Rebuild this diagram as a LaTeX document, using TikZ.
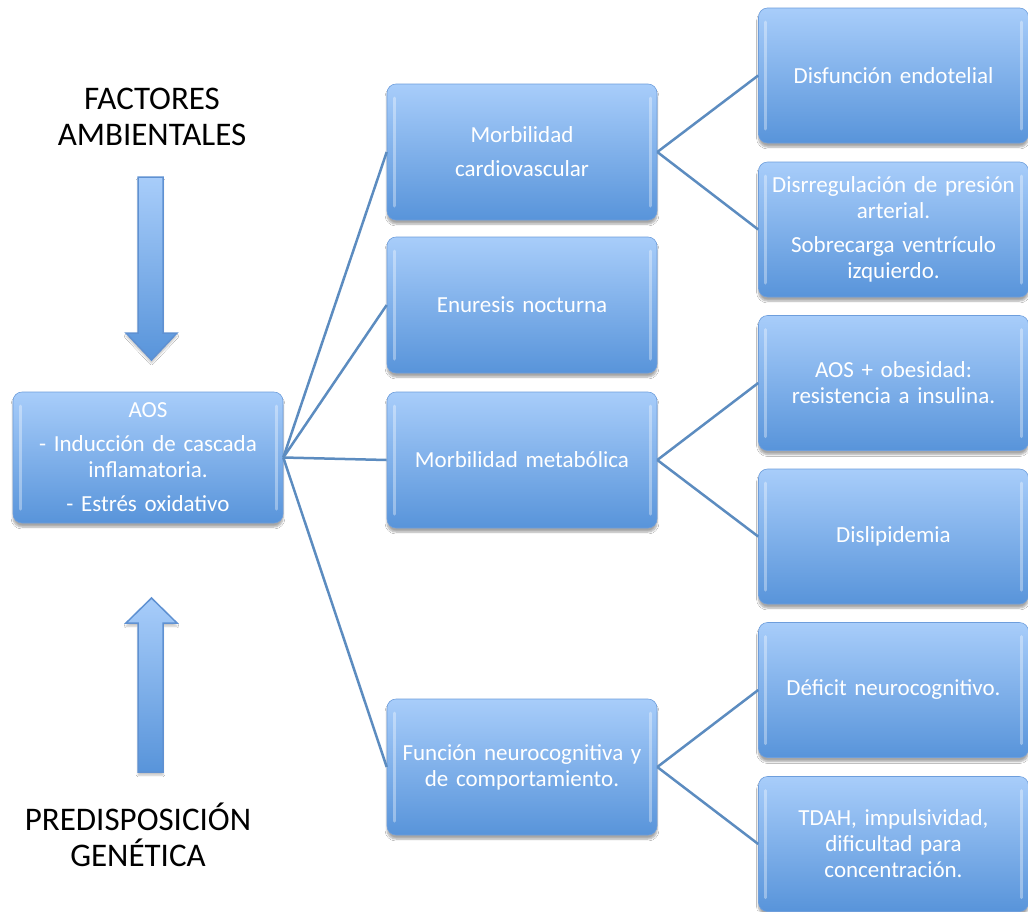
\documentclass[tikz,border=0pt]{standalone}
\usepackage{fontspec}
\setmainfont{Carlito}[WordSpace=0.8]
\usetikzlibrary{shadows.blur}
\definecolor{boxtop}{RGB}{168,205,250}
\definecolor{boxbot}{RGB}{88,148,218}
\definecolor{boxline}{RGB}{110,158,220}
\definecolor{conn}{RGB}{92,140,192}
\definecolor{arrline}{RGB}{95,145,210}
\tikzset{
  diabox/.style={rectangle, rounded corners=9pt, inner sep=2pt,
    top color=boxtop, bottom color=boxbot, draw=boxline, line width=0.6pt,
    text=white, align=center, font=\fontsize{23}{26}\selectfont,
    blur shadow={shadow xshift=0pt, shadow yshift=-4pt, shadow opacity=35, shadow blur steps=6},
    path picture={
      \draw[white, opacity=0.35, line width=3pt, line cap=round]
        ([xshift=7pt,yshift=-14pt]path picture bounding box.north west) --
        ([xshift=7pt,yshift=14pt]path picture bounding box.south west);
      \draw[white, opacity=0.35, line width=3pt, line cap=round]
        ([xshift=-7pt,yshift=-14pt]path picture bounding box.north east) --
        ([xshift=-7pt,yshift=14pt]path picture bounding box.south east);
    }},
  lvltwo/.style={diabox, minimum width=270pt, minimum height=136pt, text width=266pt},
  lvlthree/.style={diabox, minimum width=269pt, minimum height=135pt, text width=266pt},
  link/.style={draw=conn, line width=2.5pt},
  title/.style={text=black, align=center, font=\fontsize{33}{36}\selectfont},
  bigarrow/.style={top color=boxtop, bottom color=boxbot, draw=arrline, line width=1.5pt, line join=miter,
    blur shadow={shadow xshift=0pt, shadow yshift=-3pt, shadow opacity=25, shadow blur steps=5}}
}
\begin{document}
\begin{tikzpicture}[x=1pt,y=-1pt]
\useasboundingbox (0,0) rectangle (1028,911);
\fill[white] (0,0) rectangle (1028,911);

% titles
\node[title] (fa) at (152,117) {FACTORES\\AMBIENTALES};
\node[title] (pg) at (138,835) {PREDISPOSICIÓN\\GENÉTICA};

% big arrows
\path[bigarrow] (138,177) -- (163,177) -- (163,333) -- (177,333) -- (151.5,360) -- (126,333) -- (138,333) -- cycle;
\path[bigarrow] (151.5,598) -- (177,623) -- (163,623) -- (163,772) -- (138,772) -- (138,623) -- (126,623) -- cycle;

% root
\node[diabox, minimum width=270pt, minimum height=131pt, text width=266pt] (aos) at (148,457.5)
  {AOS\\[8pt]- Inducción de cascada\\inflamatoria.\\[8pt]- Estrés oxidativo};

% level two
\node[lvltwo] (cv) at (522,152) {Morbilidad\\[8pt]cardiovascular};
\node[lvltwo] (enu) at (522,305) {Enuresis nocturna};
\node[lvltwo] (met) at (522,460) {Morbilidad metabólica};
\node[lvltwo] (neu) at (522,767) {Función neurocognitiva y\\de comportamiento.};

% level three
\node[lvlthree] (d1) at (893.5,75.5) {Disfunción endotelial};
\node[lvlthree] (d2) at (893.5,229.5) {Disrregulación de presión\\arterial.\\[8pt]Sobrecarga ventrículo\\izquierdo.};
\node[lvlthree] (d3) at (893.5,383) {AOS + obesidad:\\resistencia a insulina.};
\node[lvlthree] (d4) at (893.5,536.5) {Dislipidemia};
\node[lvlthree] (d5) at (893.5,690) {Déficit neurocognitivo.};
\node[lvlthree] (d6) at (893.5,844) {TDAH, impulsividad,\\dificultad para\\concentración.};

% connectors
\draw[link] (aos.east) -- (cv.west);
\draw[link] (aos.east) -- (enu.west);
\draw[link] (aos.east) -- (met.west);
\draw[link] (aos.east) -- (neu.west);
\draw[link] (cv.east) -- (d1.west);
\draw[link] (cv.east) -- (d2.west);
\draw[link] (met.east) -- (d3.west);
\draw[link] (met.east) -- (d4.west);
\draw[link] (neu.east) -- (d5.west);
\draw[link] (neu.east) -- (d6.west);
\end{tikzpicture}
\end{document}
